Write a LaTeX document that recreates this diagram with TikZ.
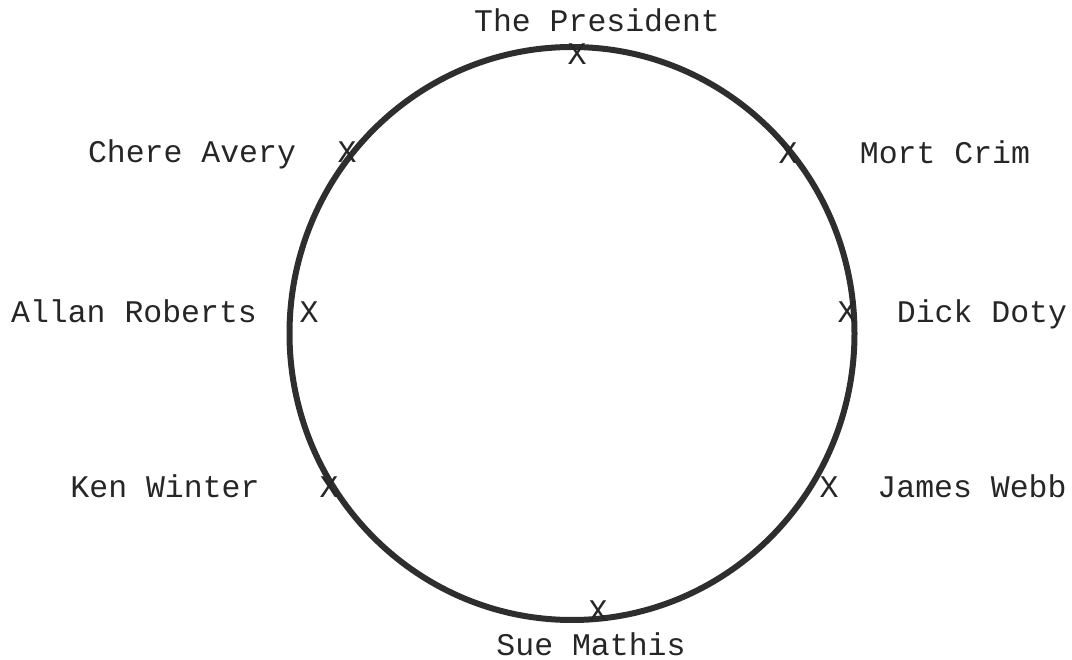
\documentclass[tikz,border=0pt]{standalone}
\usepackage{fontspec}
\setmonofont{Liberation Mono}
\begin{document}
\begin{tikzpicture}[x=1pt,y=-1pt,
  lbl/.style={font=\ttfamily\fontsize{31.5}{36}\selectfont, text=black!85, inner sep=0pt, anchor=base},
  xmark/.style={font=\ttfamily\fontsize{31.5}{36}\selectfont, text=black!85, inner sep=0pt, anchor=base}]
\useasboundingbox (0,0) rectangle (1072,660);
\draw[line width=6pt, black!82] (572,333.5) ellipse [x radius=282.5, y radius=286.5];
% X marks
\node[xmark] (xp) at (577,65) {X};
\node[xmark] (xc) at (347,163) {X};
\node[xmark] (xm) at (788,164) {X};
\node[xmark] (xa) at (309,323) {X};
\node[xmark] (xd) at (847,323) {X};
\node[xmark] (xk) at (329,497) {X};
\node[xmark] (xj) at (829,497) {X};
\node[xmark] (xs) at (598,621) {X};
% labels
\node[lbl] (lp) at (597,32) {The President};
\node[lbl] (lc) at (192,163) {Chere Avery};
\node[lbl] (lm) at (945,164) {Mort Crim};
\node[lbl] (la) at (134,323) {Allan Roberts};
\node[lbl] (ld) at (982,323) {Dick Doty};
\node[lbl] (lk) at (165,497) {Ken Winter};
\node[lbl] (lj) at (972,497) {James Webb};
\node[lbl] (ls) at (591,655) {Sue Mathis};
\end{tikzpicture}
\end{document}
